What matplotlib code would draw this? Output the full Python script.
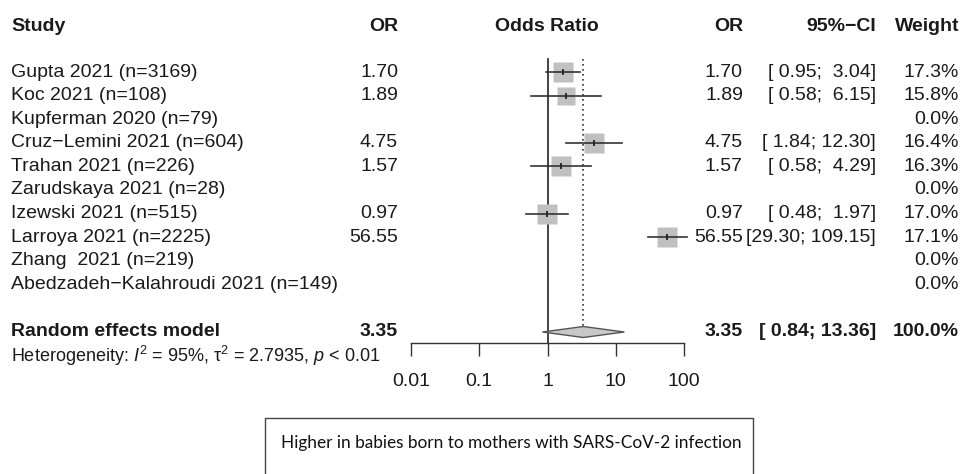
import matplotlib.pyplot as plt
import numpy as np
from matplotlib.patches import Polygon

plt.rcParams['font.family'] = ['Liberation Sans', 'DejaVu Sans']
plt.rcParams['mathtext.fontset'] = 'custom'
plt.rcParams['mathtext.rm'] = 'Liberation Sans'
plt.rcParams['mathtext.it'] = 'Liberation Sans:italic'

# data
studies = ["Gupta 2021 (n=3169)", "Koc 2021 (n=108)", "Kupferman 2020 (n=79)",
           "Cruz\u2212Lemini 2021 (n=604)", "Trahan 2021 (n=226)", "Zarudskaya 2021 (n=28)",
           "Izewski 2021 (n=515)", "Larroya 2021 (n=2225)", "Zhang  2021 (n=219)",
           "Abedzadeh\u2212Kalahroudi 2021 (n=149)"]
odds = [1.70, 1.89, np.nan, 4.75, 1.57, np.nan, 0.97, 56.55, np.nan, np.nan]
ci_low = [0.95, 0.58, np.nan, 1.84, 0.58, np.nan, 0.48, 29.30, np.nan, np.nan]
ci_high = [3.04, 6.15, np.nan, 12.30, 4.29, np.nan, 1.97, 109.15, np.nan, np.nan]
weights = [17.3, 15.8, 0.0, 16.4, 16.3, 0.0, 17.0, 17.1, 0.0, 0.0]
pooled_or, pooled_low, pooled_high = 3.35, 0.84, 13.36
i2, tau2, pval = 95, 2.7935, "< 0.01"
ticks = [0.01, 0.1, 1, 10, 100]
tick_labels = ["0.01", "0.1", "1", "10", "100"]
note = "Higher in babies born to mothers with SARS-CoV-2 infection"

W, H = 964, 474
fig = plt.figure(figsize=(W / 100, H / 100), dpi=100)

# text layer in pixel units
tx = fig.add_axes([0, 0, 1, 1])
tx.set_xlim(0, W)
tx.set_ylim(H, 0)
tx.axis('off')

# forest panel, log scale
ax_l, ax_r, ax_bot = 411, 684, 343
fa = fig.add_axes([ax_l / W, 1 - ax_bot / H, (ax_r - ax_l) / W, ax_bot / H])
fa.set_xscale('log')
fa.set_xlim(0.01, 100)
fa.set_ylim(ax_bot, 0)
fa.patch.set_visible(False)
for s in ['top', 'left', 'right']:
    fa.spines[s].set_visible(False)
fa.spines['bottom'].set_color('#333333')
fa.spines['bottom'].set_linewidth(1.0)
fa.set_yticks([])
fa.set_xticks(ticks)
fa.set_xticklabels(tick_labels)
fa.xaxis.set_minor_locator(plt.NullLocator())
fa.tick_params(axis='x', length=9.5, width=1.0, color='#333333', pad=12,
               labelsize=14, labelcolor='#1a1a1a')

row0, step = 72, 23.6
rows = [row0 + step * i for i in range(len(studies))]
sum_y = 332
txt = '#1a1a1a'
fs = 14

# reference lines
fa.plot([1, 1], [59, ax_bot], color='#222222', lw=1.2, clip_on=False)
fa.plot([pooled_or, pooled_or], [59, sum_y - 6], color='#333333', lw=1.2,
        ls=(0, (1, 2)), clip_on=False)

wmax = max(weights)
for y, o, lo, hi, w in zip(rows, odds, ci_low, ci_high, weights):
    if np.isnan(o):
        continue
    fa.plot([o], [y], marker='s', ms=14.3 * np.sqrt(w / wmax), color='#c0c0c0',
            mec='none', clip_on=False, zorder=2)
    fa.plot([lo, hi], [y, y], color='#333333', lw=1.2, clip_on=False, zorder=3)
    fa.plot([o], [y], marker='|', ms=5, mew=1.3, color='#222222', clip_on=False, zorder=4)

dia = Polygon([(pooled_low, sum_y), (pooled_or, sum_y - 5.5), (pooled_high, sum_y),
               (pooled_or, sum_y + 5.5)], closed=True, fc='#c8c8c8', ec='#555555',
              lw=1.0, zorder=3, clip_on=False)
fa.add_patch(dia)

# headers
hy = 26
tx.text(11, hy, "Study", fontsize=fs, fontweight='bold', va='center', color=txt)
tx.text(398, hy, "OR", fontsize=fs, fontweight='bold', va='center', ha='right', color=txt)
tx.text(547, hy, "Odds Ratio", fontsize=fs, fontweight='bold', va='center', ha='center', color=txt)
tx.text(743, hy, "OR", fontsize=fs, fontweight='bold', va='center', ha='right', color=txt)
tx.text(876, hy, "95%\u2212CI", fontsize=fs, fontweight='bold', va='center', ha='right', color=txt)
tx.text(959, hy, "Weight", fontsize=fs, fontweight='bold', va='center', ha='right', color=txt)

for y, name, o, lo, hi, w in zip(rows, studies, odds, ci_low, ci_high, weights):
    tx.text(11, y, name, fontsize=fs, va='center', color=txt)
    if not np.isnan(o):
        tx.text(398, y, f"{o:.2f}", fontsize=fs, va='center', ha='right', color=txt)
        tx.text(743, y, f"{o:.2f}", fontsize=fs, va='center', ha='right', color=txt)
        ci = f"[{lo:5.2f}; {hi:5.2f}]"
        tx.text(876, y, ci, fontsize=fs, va='center', ha='right', color=txt)
    tx.text(959, y, f"{w:.1f}%", fontsize=fs, va='center', ha='right', color=txt)

# pooled row
tx.text(11, sum_y, "Random effects model", fontsize=fs, fontweight='bold', va='center', color=txt)
tx.text(398, sum_y, f"{pooled_or:.2f}", fontsize=fs, fontweight='bold', va='center', ha='right', color=txt)
tx.text(743, sum_y, f"{pooled_or:.2f}", fontsize=fs, fontweight='bold', va='center', ha='right', color=txt)
tx.text(876, sum_y, f"[{pooled_low:5.2f}; {pooled_high:5.2f}]", fontsize=fs, fontweight='bold',
        va='center', ha='right', color=txt)
tx.text(959, sum_y, "100.0%", fontsize=fs, fontweight='bold', va='center', ha='right', color=txt)

het = (r"Heterogeneity: $I^2$ = " + f"{i2}%, " + r"$\mathrm{\tau}^2$ = " + f"{tau2}, "
       + r"$p$ " + pval)
tx.text(11, 356, het, fontsize=13, va='center', color=txt)

# note box (runs off the bottom edge)
tx.plot([265, 265, 753, 753], [H + 5, 418, 418, H + 5], color='#444444', lw=1.0)
tx.text(511, 443, note, fontsize=12.4, va='center', ha='center', color='#111111',
        family=['Lato', 'DejaVu Sans'])

fig.savefig("out.png", dpi=100, facecolor='white')
